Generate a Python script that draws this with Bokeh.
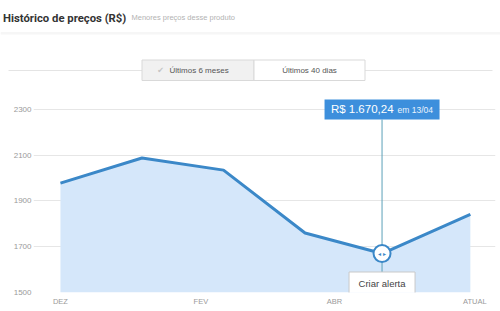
from bokeh.plotting import figure
from bokeh.models import Range1d, FixedTicker
from bokeh.layouts import column, row
from bokeh.core.properties import value
from bokeh.embed import file_html
from bokeh.resources import INLINE

# ---- data ----
days = [0, 36, 72, 108, 142, 181]          # days since start of DEZ
prices = [1978, 2088, 2035, 1760, 1670.24, 1842]
y_ticks = [1500, 1700, 1900, 2100, 2300]
x_tick_pos = [0, 62, 121, 183]
x_tick_labels = ["DEZ", "FEV", "ABR", "ATUAL"]
sel_index = 4
sel_date = "13/04"
title_text = "Histórico de preços (R$)"
subtitle_text = "Menores preços desse produto"
button_labels = ["Últimos 6 meses", "Últimos 40 dias"]
alert_text = "Criar alerta"

FONT = "Liberation Sans"
LINE_C = "#3b88c8"
AREA_C = "#d5e7fa"
TIP_C = "#3d8fdc"

# ---- header (pixel coordinates) ----
hdr = figure(width=500, height=90, output_backend="svg", toolbar_location=None,
             x_range=Range1d(0, 500), y_range=Range1d(90, 0),
             x_axis_location=None, y_axis_location=None,
             min_border=0, outline_line_color=None)
hdr.grid.visible = False
hdr.text(x=[2.5], y=[17.7], text=[title_text], text_font=value("Roboto"),
         text_font_style="bold", text_font_size="11.3px", text_color="#333333",
         text_baseline="alphabetic")
hdr.text(x=[131], y=[16.8], text=[subtitle_text], text_font=value(FONT),
         text_font_size="7.5px", text_color="#b3b3b3", text_baseline="alphabetic")
hdr.segment(x0=[0], y0=[32.5], x1=[500], y1=[32.5], line_color="#ececec", line_width=1)
hdr.segment(x0=[0], y0=[33.5], x1=[500], y1=[33.5], line_color="#f6f6f6", line_width=1)
hdr.segment(x0=[8, 364], y0=[70, 70], x1=[142, 492], y1=[70, 70],
            line_color="#e4e4e4", line_width=1)
hdr.quad(left=[141.5, 253.5], right=[253.5, 364.5], top=[59.5, 59.5], bottom=[80, 80],
         fill_color=["#f1f1f1", "#ffffff"], line_color="#d9d9d9", line_width=1)
hdr.text(x=[160], y=[70], text=["✔"], text_font=value("DejaVu Sans"),
         text_font_size="8px", text_color="#c4c4c4", text_align="center",
         text_baseline="middle")
hdr.text(x=[169], y=[70], text=[button_labels[0]], text_font=value(FONT),
         text_font_size="8px", text_color="#555555", text_baseline="middle")
hdr.text(x=[309], y=[70], text=[button_labels[1]], text_font=value(FONT),
         text_font_size="8px", text_color="#555555", text_baseline="middle",
         text_align="center")

# ---- chart ----
Y0, Y1 = 1500, 2383
FRAME_BOTTOM_PX, FRAME_TOP_PX = 292, 90


def ydata(py):
    return Y0 + (FRAME_BOTTOM_PX - py) * (Y1 - Y0) / (FRAME_BOTTOM_PX - FRAME_TOP_PX)


p = figure(width=500, height=221, output_backend="svg", toolbar_location=None,
           x_range=Range1d(-11.9, 192.1), y_range=Range1d(Y0, Y1),
           min_border_left=33, min_border_right=5, min_border_top=0,
           min_border_bottom=19, outline_line_color=None)
p.xgrid.visible = False
p.ygrid.grid_line_color = "#e6e6e6"
p.ygrid.ticker = FixedTicker(ticks=y_ticks)

p.yaxis.ticker = FixedTicker(ticks=y_ticks)
p.xaxis.ticker = FixedTicker(ticks=x_tick_pos)
p.xaxis.major_label_overrides = {t: l for t, l in zip(x_tick_pos, x_tick_labels)}
for ax in (p.xaxis, p.yaxis):
    ax.axis_line_color = None
    ax.major_tick_line_color = None
    ax.minor_tick_line_color = None
    ax.major_tick_out = 0
    ax.major_tick_in = 0
    ax.minor_tick_out = 0
    ax.minor_tick_in = 0
    ax.major_label_text_font = FONT
    ax.major_label_text_color = "#9a9a9a"
p.yaxis.major_label_text_font_size = "8px"
p.yaxis.major_label_standoff = 2
p.xaxis.major_label_text_font_size = "7.5px"
p.xaxis.major_label_standoff = 4

p.varea(x=days, y1=[Y0] * len(days), y2=prices, fill_color=AREA_C)
p.line(days, prices, line_color=LINE_C, line_width=3)

sx, sy = days[sel_index], prices[sel_index]
p.segment(x0=[sx], y0=[ydata(119)], x1=[sx], y1=[ydata(272)],
          line_color="#5aa0b8", line_width=1)
p.scatter([sx], [sy], size=17, fill_color="white", line_color=LINE_C, line_width=2)
p.text(x=[sx], y=[sy], text=["◂ ▸"], text_font=value("DejaVu Sans"),
       text_font_size="6px", text_color=LINE_C, text_align="center",
       text_baseline="middle")

price_str = f"{sy:,.2f}".replace(",", "X").replace(".", ",").replace("X", ".")
p.rect(x=[sx], y=[ydata(109)], width=115, height=20, width_units="screen",
       height_units="screen", fill_color=TIP_C, line_color=None)
p.text(x=[sx], y=[ydata(108.5)], text=["R$ " + price_str], x_offset=11.5,
       text_font=value(FONT), text_font_size="11.5px", text_color="white",
       text_align="right", text_baseline="middle")
p.text(x=[sx], y=[ydata(109.5)], text=["em " + sel_date], x_offset=15.5,
       text_font=value(FONT), text_font_size="8.5px", text_color="#eaf3fc",
       text_align="left", text_baseline="middle")

p.rect(x=[sx], y=[ydata(282.5)], width=66, height=22, width_units="screen",
       height_units="screen", fill_color="white", line_color="#c9c9c9")
p.text(x=[sx], y=[ydata(282.5)], text=[alert_text], text_font=value(FONT),
       text_font_size="9.5px", text_color="#444444", text_align="center",
       text_baseline="middle")

layout = column(row(hdr), p, spacing=0)
open("out.html", "w").write(file_html(layout, INLINE))
